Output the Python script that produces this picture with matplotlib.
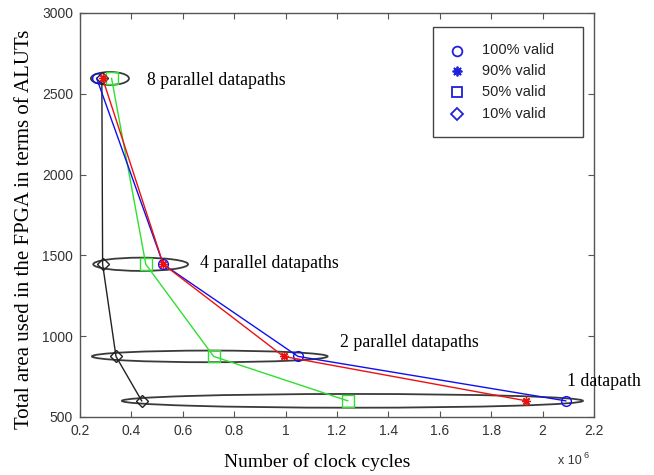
import matplotlib
matplotlib.use("Agg")
import matplotlib.pyplot as plt
from matplotlib.patches import Ellipse, Rectangle
from matplotlib.lines import Line2D

# ---------------- data ----------------
# number of clock cycles (x 10^6) for 8, 4, 2, 1 parallel datapaths
area_aluts = [2595, 1445, 875, 600]
cycles_100 = [0.265, 0.524, 1.048, 2.090]
cycles_90 = [0.288, 0.524, 0.992, 1.937]
cycles_50 = [0.323, 0.456, 0.720, 1.242]
cycles_10 = [0.285, 0.288, 0.340, 0.440]

series_labels = ["100% valid", "90% valid", "50% valid", "10% valid"]
group_labels = ["8 parallel datapaths", "4 parallel datapaths",
                "2 parallel datapaths", "1 datapath"]

x_ticks = [0.2, 0.4, 0.6, 0.8, 1.0, 1.2, 1.4, 1.6, 1.8, 2.0, 2.2]
x_tick_labels = ["0.2", "0.4", "0.6", "0.8", "1", "1.2", "1.4", "1.6", "1.8", "2", "2.2"]
y_ticks = [500, 1000, 1500, 2000, 2500, 3000]

# ellipse outlines grouping the configurations (center x, width in x)
ellipse_cx = [0.3165, 0.436, 0.705, 1.260]
ellipse_w = [0.148, 0.369, 0.917, 1.794]
ellipse_h = [80, 82, 72, 85]

# annotation text anchors
label_x = [0.460, 0.666, 1.210, 2.095]
label_y = [2580, 1452, 958, 717]

# ---------------- figure ----------------
W, H = 654, 475
fig = plt.figure(figsize=(W / 100, H / 100), dpi=100)
ax = fig.add_axes([80 / W, 1 - 417 / H, (594 - 80) / W, (417 - 13) / H])

sans = "Liberation Sans"
serif = "Liberation Serif"
axcol = "#555555"

# ellipses first (behind)
for cx, w, h, cy in zip(ellipse_cx, ellipse_w, ellipse_h, area_aluts):
    ax.add_patch(Ellipse((cx, cy), w, h, fill=False, edgecolor="#3a3a3a",
                         lw=1.3, zorder=2))

green = "#2fe02f"
star = (8, 2, 0)
ax.plot(cycles_10, area_aluts, color="#222222", lw=1.0, marker="D",
        markersize=6, markerfacecolor="none", markeredgecolor="#222222", zorder=3)
ax.plot(cycles_50, area_aluts, color=green, lw=1.0, marker="s",
        markersize=8, markerfacecolor="none", markeredgecolor=green, zorder=3)
ax.plot(cycles_100, area_aluts, color="#1010ee", lw=1.0, marker="o",
        markersize=7, markerfacecolor="none", markeredgecolor="#1010ee", zorder=4)
ax.plot(cycles_90, area_aluts, color="#ee1010", lw=1.0, marker=star,
        markersize=6, markeredgewidth=1.0, markeredgecolor="#ee1010", zorder=5)

for lx, ly, txt in zip(label_x, label_y, group_labels):
    ax.text(lx, ly, txt, family=serif, fontsize=12.8, va="center", ha="left",
            clip_on=False)

ax.set_xlim(0.2, 2.2)
ax.set_ylim(500, 3000)
ax.set_xticks(x_ticks)
ax.set_xticklabels(x_tick_labels)
ax.set_yticks(y_ticks)
ax.tick_params(direction="in", length=4, top=True, right=True, color=axcol,
               labelsize=10, pad=5, labelcolor="#333333")
for lab in ax.get_xticklabels() + ax.get_yticklabels():
    lab.set_family(sans)
for sp in ax.spines.values():
    sp.set_color(axcol)
    sp.set_linewidth(1.0)

# axis labels
fig.text(317 / W, 1 - 462 / H, "Number of clock cycles", family=serif,
         fontsize=14, ha="center", va="center")
fig.text(25 / W, 1 - 229 / H, "Total area used in the FPGA in terms of ALUTs",
         family=serif, fontsize=15, ha="center", va="center", rotation=90)
fig.text(558 / W, 1 - 461 / H, "x 10", family=sans, fontsize=9,
         ha="left", va="center", color="#333333")
fig.text(583 / W, 1 - 455 / H, "6", family=sans, fontsize=6.5,
         ha="left", va="center", color="#333333")

# legend box
fig.patches.append(Rectangle((433 / W, 1 - 137 / H), 150 / W, 110 / H,
                             transform=fig.transFigure, facecolor="white",
                             edgecolor="#444444", lw=1.0, zorder=10))
leg_markers = ["o", star, "s", "D"]
leg_sizes = [7, 7, 7, 6]
row_y = [50.5, 71.5, 92.5, 113.5]
for mk, ms, ry, lab in zip(leg_markers, leg_sizes, row_y, series_labels):
    fig.add_artist(Line2D([457 / W], [1 - ry / H], marker=mk, markersize=ms,
                          markerfacecolor="none", markeredgecolor="#2020dd",
                          markeredgewidth=1.3, linestyle="none",
                          transform=fig.transFigure, zorder=11))
    fig.text(482 / W, 1 - ry / H, lab, family=sans, fontsize=10.5,
             ha="left", va="center", zorder=12, color="#222222")

fig.savefig("out.png", dpi=100)
